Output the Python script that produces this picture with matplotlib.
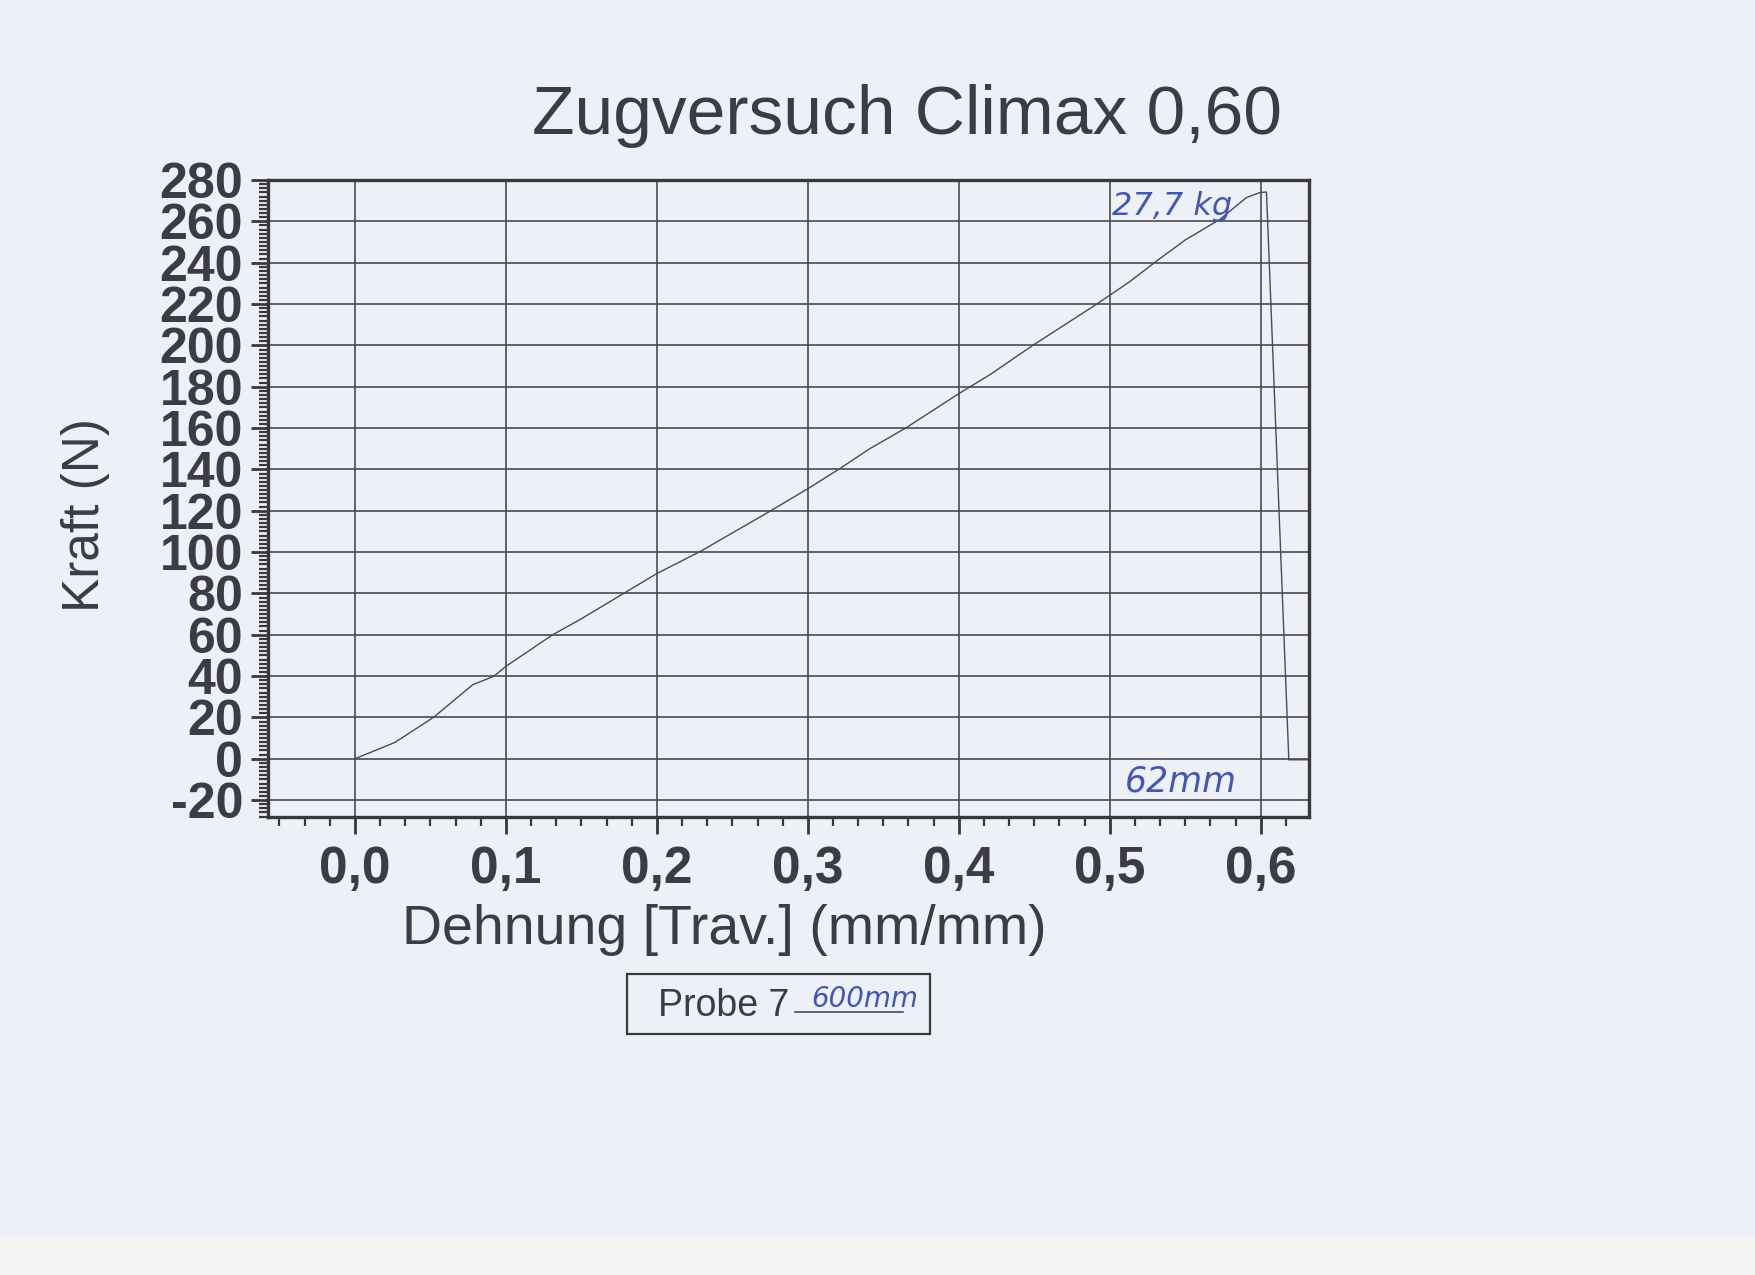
"""Zugversuch Climax 0,60 - Kraft/Dehnung Kurve (Probe 7)"""
import matplotlib
matplotlib.use("Agg")
from matplotlib import pyplot as plt
from matplotlib.lines import Line2D
from matplotlib.patches import Rectangle
from matplotlib.ticker import AutoMinorLocator, FixedLocator, FixedFormatter

dehnung = [0.0, 0.0265, 0.052, 0.078, 0.092, 0.100, 0.131, 0.149, 0.200, 0.229,
           0.275, 0.301, 0.321, 0.341, 0.365, 0.401, 0.421, 0.449, 0.491, 0.513,
           0.531, 0.550, 0.573, 0.5905, 0.5993, 0.6038, 0.6186, 0.632]
kraft = [0.0, 7.9, 20.0, 35.8, 39.9, 44.7, 60.0, 67.3, 89.6, 100.4,
         119.8, 131.1, 140.3, 150.0, 160.1, 177.1, 186.0, 200.0, 219.8, 230.7,
         240.8, 251.0, 261.0, 271.5, 273.9, 274.2, -0.5, -0.5]

x_ticks = [0.0, 0.1, 0.2, 0.3, 0.4, 0.5, 0.6]
x_labels = ["0,0", "0,1", "0,2", "0,3", "0,4", "0,5", "0,6"]
y_ticks = list(range(-20, 281, 20))
y_labels = [str(v) for v in y_ticks]

title = "Zugversuch Climax 0,60"
label_x = "Dehnung [Trav.] (mm/mm)"
label_y = "Kraft (N)"
legend_label = "Probe 7"
# handschriftliche Notizen auf dem Ausdruck
note_peak = "27,7 kg"
note_len = "62mm"
note_probe = "600mm"

paper = "#eef0f7"
ink = "#3c3c44"
blue = "#4256b8"
dark = "#38383e"

plt.rcParams["font.family"] = ["Liberation Sans", "DejaVu Sans"]

fig = plt.figure(figsize=(17.55, 12.75), dpi=100, facecolor=paper)
# hellerer Streifen unten (Scanrand)
fig.patches.append(Rectangle((0, 0), 1, 38 / 1275, transform=fig.transFigure,
                             facecolor="#f3f3f1", edgecolor="none", zorder=0))

ax = fig.add_axes([0.1527, 0.3592, 0.5932, 0.4996])
ax.set_facecolor("none")

line, = ax.plot(dehnung, kraft, color="#4a4a52", linewidth=1.0, label=legend_label)

ax.set_xlim(-0.0576, 0.632)
ax.set_ylim(-28.2, 280)

ax.xaxis.set_major_locator(FixedLocator(x_ticks))
ax.xaxis.set_major_formatter(FixedFormatter(x_labels))
ax.yaxis.set_major_locator(FixedLocator(y_ticks))
ax.yaxis.set_major_formatter(FixedFormatter(y_labels))
ax.xaxis.set_minor_locator(AutoMinorLocator(6))
ax.yaxis.set_minor_locator(AutoMinorLocator(10))

ax.grid(True, which="major", color="#4a4a52", linewidth=1.2)
for s in ax.spines.values():
    s.set_linewidth(2.4)
    s.set_color(dark)

ax.tick_params(which="major", direction="out", length=12, width=2.0, color=dark)
ax.tick_params(which="minor", direction="out", length=6.5, width=1.6, color=dark)
ax.tick_params(axis="x", which="major", labelsize=37, pad=8, labelcolor=ink)
ax.tick_params(axis="y", which="major", labelsize=36, pad=6, labelcolor=ink)
for t in ax.get_xticklabels() + ax.get_yticklabels():
    t.set_fontweight("bold")

fig.text(0.517, 0.909, title, ha="center", va="center", fontsize=50, color=ink)
fig.text(0.4125, 0.2705, label_x, ha="center", va="center", fontsize=40, color=ink)
fig.text(0.0490, 0.596, label_y, ha="center", va="center", rotation=90,
         fontsize=37, color=ink)

# Legendenkasten: Text links, Linienmuster rechts
fig.patches.append(Rectangle((627 / 1755, 1 - 1034 / 1275), 303 / 1755, 60 / 1275,
                             transform=fig.transFigure, facecolor="none",
                             edgecolor=dark, linewidth=1.6))
fig.text(658 / 1755, 1 - 1006 / 1275, legend_label, ha="left", va="center",
         fontsize=27, color=ink)
fig.lines.append(Line2D([795 / 1755, 903 / 1755], [1 - 1012 / 1275, 1 - 1012 / 1275],
                        transform=fig.transFigure, color=line.get_color(),
                        linewidth=1.2))

# Notizen in Kugelschreiber
ax.text(0.541, 267.0, note_peak, ha="center", va="center", fontsize=23,
        style="italic", color=blue, family=["DejaVu Sans"], fontweight="light")
ax.text(0.547, -11.0, note_len, ha="center", va="center", fontsize=25,
        style="italic", color=blue, family=["DejaVu Sans"])
fig.text(865 / 1755, 1 - 1013 / 1275, note_probe, ha="center", va="bottom",
         fontsize=20, style="italic", color=blue, family=["DejaVu Sans"])

fig.savefig("out.png", dpi=100, facecolor=paper)
